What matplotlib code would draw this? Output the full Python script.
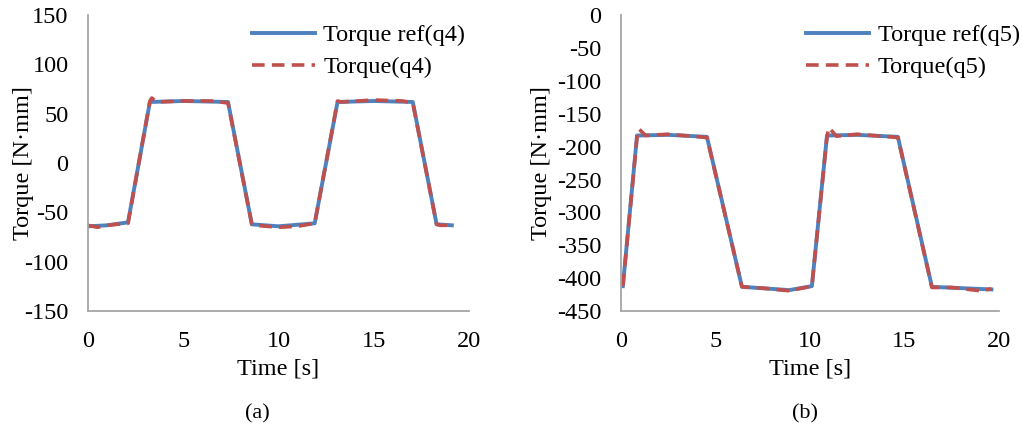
import matplotlib.pyplot as plt

plt.rcParams["font.family"] = ["Liberation Serif", "DejaVu Serif"]
plt.rcParams["font.size"] = 17.5
plt.rcParams["axes.unicode_minus"] = False

# ---- data ----
t_ref4 = [0, 1.0, 2.1, 3.25, 5.0, 7.35, 8.6, 10.0, 11.9, 13.1, 15.0, 17.05, 18.3, 19.1]
ref4 = [-64, -63, -60, 62, 63, 62, -62, -64, -61, 62, 63, 62, -62, -63]
t_meas4 = [0, 0.5, 1.0, 1.5, 2.1, 3.25, 3.35, 3.6, 5.0, 6.5, 7.35, 8.6, 8.8, 10.0, 11.0, 11.9, 13.1, 13.3, 15.0, 16.5, 17.05, 18.3, 18.5, 19.1]
meas4 = [-63, -65, -63, -62, -61, 63, 66, 62, 63, 63, 61, -62, -63, -65, -64, -61, 63, 62, 64, 63, 61, -62, -63, -63]

t_ref5 = [0.1, 0.85, 2.5, 4.55, 6.4, 8.9, 10.1, 10.9, 12.5, 14.65, 16.45, 18.0, 19.6]
ref5 = [-412, -183, -182, -185, -413, -418, -412, -183, -182, -185, -413, -415, -417]
t_meas5 = [0.1, 0.85, 0.95, 1.3, 2.5, 4.55, 6.4, 7.5, 8.9, 10.1, 10.9, 11.0, 11.4, 12.5, 14.65, 16.45, 17.5, 19.0, 19.6]
meas5 = [-412, -185, -173, -183, -181, -186, -413, -415, -419, -412, -184, -171, -184, -181, -186, -414, -414, -419, -416]

blue = "#4F81BD"
red = "#C0504D"

fig = plt.figure(figsize=(10.22, 4.28), dpi=100)
ax1 = fig.add_axes([0.0861, 0.273, 0.3728, 0.6916])
ax2 = fig.add_axes([0.6076, 0.273, 0.3699, 0.6916])


def style(ax, ylab_x):
    for s in ["top", "right"]:
        ax.spines[s].set_visible(False)
    for s in ["left", "bottom"]:
        ax.spines[s].set_color("#a6a6a6")
        ax.spines[s].set_linewidth(1.3)
    ax.tick_params(axis="y", length=0, pad=14)
    ax.tick_params(axis="x", length=0, pad=14)
    ax.set_xlim(0, 20)
    ax.set_xticks([0, 5, 10, 15, 20])
    ax.set_xlabel("Time [s]", labelpad=5)
    ax.set_ylabel("Torque [N·mm]")
    ax.yaxis.set_label_coords(ylab_x, 0.5)


# ---- (a) joint q4 ----
ax1.plot(t_ref4, ref4, color=blue, lw=2.8, label="Torque ref(q4)")
ax1.plot(t_meas4, meas4, color=red, lw=2.6, ls=(0, (3.5, 2)), label="Torque(q4)")
ax1.set_ylim(-150, 150)
ax1.set_yticks(range(-150, 151, 50))
style(ax1, -0.142)
ax1.legend(loc="upper right", bbox_to_anchor=(1.035, 1.026), frameon=False,
           handlelength=2.6, labelspacing=0.4, handletextpad=0.35, borderpad=0.2)

# ---- (b) joint q5 ----
ax2.plot(t_ref5, ref5, color=blue, lw=2.8, label="Torque ref(q5)")
ax2.plot(t_meas5, meas5, color=red, lw=2.6, ls=(0, (3.5, 2)), label="Torque(q5)")
ax2.set_ylim(-450, 0)
ax2.set_yticks(range(-450, 1, 50))
style(ax2, -0.183)
ax2.legend(loc="upper right", bbox_to_anchor=(1.1, 1.026), frameon=False,
           handlelength=2.6, labelspacing=0.4, handletextpad=0.35, borderpad=0.2)

fig.text(0.252, 0.034, "(a)", ha="center", va="center", fontsize=16)
fig.text(0.788, 0.034, "(b)", ha="center", va="center", fontsize=16)

fig.savefig("out.png", dpi=100)
